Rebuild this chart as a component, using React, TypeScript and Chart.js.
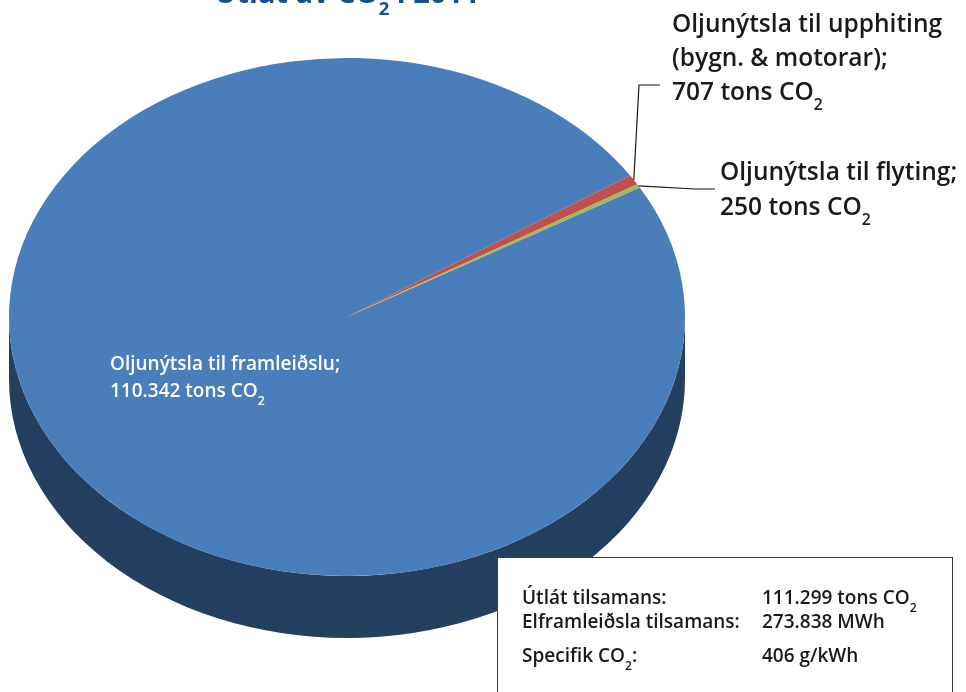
import React, { useEffect, useRef } from 'react';
import { Chart, registerables } from 'chart.js';

Chart.register(...registerables);

// ---------- data ----------
const categories = [
  'Oljunýtsla til framleiðslu',
  'Oljunýtsla til upphiting (bygn. & motorar)',
  'Oljunýtsla til flyting',
];
const emissions = [110342, 707, 250]; // tons CO2
const labelLines = [
  ['Oljunýtsla til framleiðslu;'],
  ['Oljunýtsla til upphiting', '(bygn. & motorar);'],
  ['Oljunýtsla til flyting;'],
];
const sliceColors = ['#4A7EBB', '#C0504D', '#9BBB59'];
const sideColors = ['#243F60', '#7E302E', '#627A36'];
const totalProductionMWh = 273838;
const specificGPerKWh = 406;
const titleYear = '2011';

// ---------- layout ----------
const OFF = 40; // canvas is shifted up by this many px
const W = 966;
const H = 692 + OFF;
const SY = 259 / 338; // vertical squash of the pie (tilt)
const DEPTH = 62;
const ROTATION = 60;
const FONT = '"Open Sans", "Noto Sans", sans-serif';

const fmt = (n: number) => String(n).replace(/\B(?=(\d{3})+(?!\d))/g, '.');

type Part = { t: string; sub?: boolean };

function richWidth(ctx: CanvasRenderingContext2D, parts: Part[], size: number, weight: string) {
  let w = 0;
  for (const p of parts) {
    ctx.font = `${weight} ${p.sub ? size * 0.64 : size}px ${FONT}`;
    w += ctx.measureText(p.t).width;
  }
  return w;
}

function drawRich(
  ctx: CanvasRenderingContext2D,
  parts: Part[],
  x: number,
  y: number,
  size: number,
  weight: string,
) {
  let cx = x;
  for (const p of parts) {
    const fs = p.sub ? size * 0.64 : size;
    ctx.font = `${weight} ${fs}px ${FONT}`;
    ctx.fillText(p.t, cx, p.sub ? y + size * 0.42 : y);
    cx += ctx.measureText(p.t).width;
  }
}

const pie3d = {
  id: 'pie3d',
  beforeDatasetsDraw(chart: any) {
    const arcs = chart.getDatasetMeta(0).data;
    const ctx: CanvasRenderingContext2D = chart.ctx;
    const { x: cx, y: cy, outerRadius: r } = arcs[0].getProps(['x', 'y', 'outerRadius'], true);
    const ry = r * SY;
    // side walls (only the front half, angles 0..PI, is visible)
    arcs.forEach((arc: any, i: number) => {
      const { startAngle, endAngle } = arc.getProps(['startAngle', 'endAngle'], true);
      for (const shift of [-2 * Math.PI, 0, 2 * Math.PI]) {
        const a1 = Math.max(startAngle + shift, 0);
        const a2 = Math.min(endAngle + shift, Math.PI);
        if (a2 > a1) {
          ctx.beginPath();
          ctx.ellipse(cx, cy, r, ry, 0, a1, a2);
          ctx.ellipse(cx, cy + DEPTH, r, ry, 0, a2, a1, true);
          ctx.closePath();
          ctx.fillStyle = sideColors[i];
          ctx.fill();
        }
      }
    });
    ctx.save();
    ctx.translate(cx, cy);
    ctx.scale(1, SY);
    ctx.translate(-cx, -cy);
  },
  afterDatasetsDraw(chart: any) {
    chart.ctx.restore();
  },
};

const labelsPlugin = {
  id: 'labels3d',
  afterDraw(chart: any) {
    const ctx: CanvasRenderingContext2D = chart.ctx;
    const arcs = chart.getDatasetMeta(0).data;
    const values: number[] = chart.data.datasets[0].data;
    const total = values.reduce((a, b) => a + b, 0);
    const edge = (i: number) => {
      const { x, y, outerRadius, startAngle, endAngle } = arcs[i].getProps(
        ['x', 'y', 'outerRadius', 'startAngle', 'endAngle'],
        true,
      );
      const m = (startAngle + endAngle) / 2;
      return [x + outerRadius * Math.cos(m), y + outerRadius * SY * Math.sin(m)];
    };
    ctx.save();
    ctx.textBaseline = 'alphabetic';
    ctx.textAlign = 'left';

    // title (mostly above the visible page)
    const titleParts: Part[] = [{ t: 'Útlát av CO' }, { t: '2', sub: true }, { t: ' í ' + titleYear }];
    ctx.fillStyle = '#17508C';
    const tw = richWidth(ctx, titleParts, 29, '700');
    drawRich(ctx, titleParts, 347 - tw / 2, 3 + OFF, 29, '700');

    // leader lines
    ctx.strokeStyle = '#1a1a1a';
    ctx.lineWidth = 1.2;
    const [rx1, ry1] = edge(1);
    ctx.beginPath();
    ctx.moveTo(rx1, ry1);
    ctx.lineTo(639, 85 + OFF);
    ctx.lineTo(660, 85 + OFF);
    ctx.stroke();
    const [gx1, gy1] = edge(2);
    ctx.beginPath();
    ctx.moveTo(gx1, gy1);
    ctx.lineTo(695, 189 + OFF);
    ctx.lineTo(715, 189 + OFF);
    ctx.stroke();

    // outside labels
    ctx.fillStyle = '#1a1a1a';
    const big = 24.5;
    drawRich(ctx, [{ t: labelLines[1][0] }], 672, 32 + OFF, big, '600');
    drawRich(ctx, [{ t: labelLines[1][1] }], 672, 66 + OFF, big, '600');
    drawRich(ctx, [{ t: fmt(values[1]) + ' tons CO' }, { t: '2', sub: true }], 672, 100 + OFF, big, '600');
    drawRich(ctx, [{ t: labelLines[2][0] }], 720, 180 + OFF, big, '600');
    drawRich(ctx, [{ t: fmt(values[2]) + ' tons CO' }, { t: '2', sub: true }], 720, 215 + OFF, big, '600');

    // inside label
    ctx.fillStyle = '#ffffff';
    drawRich(ctx, [{ t: labelLines[0][0] }], 110, 370 + OFF, 19, '600');
    drawRich(ctx, [{ t: fmt(values[0]) + ' tons CO' }, { t: '2', sub: true }], 110, 397 + OFF, 19, '600');

    // summary box
    ctx.fillStyle = '#ffffff';
    ctx.fillRect(497.5, 557.5 + OFF, 455, 200);
    ctx.strokeStyle = '#3a3a3a';
    ctx.lineWidth = 1;
    ctx.strokeRect(497.5, 557.5 + OFF, 455, 200);
    ctx.fillStyle = '#1a1a1a';
    const bs = 19;
    drawRich(ctx, [{ t: 'Útlát tilsamans:' }], 522, 604 + OFF, bs, '600');
    drawRich(ctx, [{ t: fmt(total) + ' tons CO' }, { t: '2', sub: true }], 762, 604 + OFF, bs, '600');
    drawRich(ctx, [{ t: 'Elframleiðsla tilsamans:' }], 522, 628 + OFF, bs, '600');
    drawRich(ctx, [{ t: fmt(totalProductionMWh) + ' MWh' }], 762, 628 + OFF, bs, '600');
    drawRich(ctx, [{ t: 'Specifik CO' }, { t: '2', sub: true }, { t: ':' }], 522, 662 + OFF, bs, '600');
    drawRich(ctx, [{ t: specificGPerKWh + ' g/kWh' }], 762, 662 + OFF, bs, '600');
    ctx.restore();
  },
};

export default function App() {
  const ref = useRef<HTMLCanvasElement>(null);
  useEffect(() => {
    document.body.style.overflow = 'hidden';
    const chart = new Chart(ref.current as HTMLCanvasElement, {
      type: 'pie',
      data: {
        labels: categories,
        datasets: [
          {
            data: emissions,
            backgroundColor: sliceColors,
            borderWidth: 0,
            clip: false,
          } as any,
        ],
      },
      options: {
        responsive: false,
        animation: false,
        rotation: ROTATION,
        events: [],
        layout: { padding: { left: 9, right: 281, top: 19, bottom: 37 } },
        plugins: { legend: { display: false }, tooltip: { enabled: false }, title: { display: false } },
      },
      plugins: [pie3d, labelsPlugin],
    });
    return () => chart.destroy();
  }, []);
  return (
    <div style={{ position: 'absolute', left: 0, top: -OFF, width: W, height: H }}>
      <canvas ref={ref} width={W} height={H} style={{ display: 'block' }} />
    </div>
  );
}
